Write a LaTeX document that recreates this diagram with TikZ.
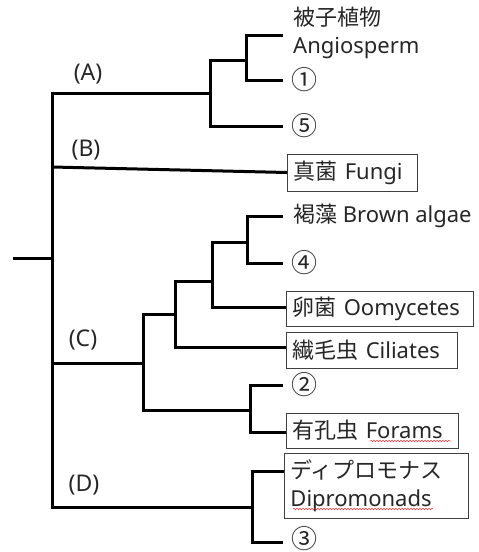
\documentclass[tikz,border=0pt]{standalone}
\usepackage{fontspec}
\setmainfont{Noto Sans}
\newfontfamily\jp{Noto Sans CJK JP}
\usetikzlibrary{decorations.pathmorphing}
\definecolor{txt}{HTML}{262626}
\newcommand{\cnum}[1]{{\jp\fontsize{26}{26}\selectfont #1}}
\begin{document}
\begin{tikzpicture}[x=1pt,y=-1pt,
  br/.style={line width=3pt, line join=miter, line cap=butt, black},
  lbl/.style={anchor=west, inner xsep=10pt, inner ysep=0pt, text=txt,
    font=\fontsize{22}{28}\selectfont, align=left},
  cnode/.style={anchor=west, inner xsep=8pt, inner ysep=0pt, text=txt},
  cl/.style={text=txt, inner sep=0pt, font=\fontsize{23}{28}\selectfont},
  boxed/.style={anchor=west, draw=black!75, line width=0.9pt, text=txt,
    inner xsep=6pt, inner ysep=0pt, align=left,
    font=\fontsize{22}{28}\selectfont},
  squig/.style={red!80, line width=0.5pt, decorate,
    decoration={snake, amplitude=0.8pt, segment length=3pt}}]
\useasboundingbox (0,0) rectangle (479,552);

% ---- text nodes ----
\node[lbl] (angio) at (283,33) {{\jp 被子植物}\\Angiosperm};
\node[cnode] (one) at (283,80) {\cnum{①}};
\node[cnode] (five) at (283,126) {\cnum{⑤}};
\node[boxed, minimum width=130pt, minimum height=37pt, text width=118pt] (fungi) at (287,172.5) {{\jp 真菌} Fungi};
\node[lbl] (brown) at (283,216) {{\jp 褐藻} Brown algae};
\node[cnode] (four) at (283,263) {\cnum{④}};
\node[boxed, minimum width=187pt, minimum height=35pt, text width=175pt] (oomy) at (286,308.5) {{\jp 卵菌} Oomycetes};
\node[boxed, minimum width=171pt, minimum height=36pt, text width=159pt] (cili) at (286,350) {{\jp 繊毛虫} Ciliates};
\node[cnode] (two) at (283,385) {\cnum{②}};
\node[boxed, minimum width=172pt, minimum height=35pt, text width=160pt] (fora) at (286,430.5) {{\jp 有孔虫} Forams};
\node[boxed, minimum width=184pt, minimum height=65pt, text width=172pt] (dipro) at (284,485.5) {{\jp ディプロモナス}\\Dipromonads};
\node[cnode] (three) at (283,539) {\cnum{③}};

\node[cl] (labA) at (88,74) {(A)};
\node[cl] (labB) at (86,150) {(B)};
\node[cl] (labC) at (83,340) {(C)};
\node[cl] (labD) at (84,485) {(D)};

% ---- tree coordinates ----
\coordinate (r0) at (13,258);
\coordinate (r) at (52,258);
\coordinate (ra) at (52,93);
\coordinate (rb) at (52,167);
\coordinate (rc) at (52,363);
\coordinate (rd) at (52,507);
\coordinate (a) at (210,93);
\coordinate (aT) at (210,60);
\coordinate (aB) at (210,126);
\coordinate (a1) at (246,60);
\coordinate (a1T) at (246,35);
\coordinate (a1B) at (246,80);
\coordinate (c3) at (143,363);
\coordinate (c3T) at (143,314);
\coordinate (c3B) at (143,410);
\coordinate (c2) at (175,314);
\coordinate (c2T) at (175,281);
\coordinate (c2B) at (175,347);
\coordinate (c1) at (212,281);
\coordinate (c1T) at (212,242);
\coordinate (c1B) at (212,307);
\coordinate (c0) at (247,242);
\coordinate (c0T) at (247,216);
\coordinate (c0B) at (247,263);
\coordinate (c4) at (250,410);
\coordinate (c4T) at (250,385);
\coordinate (c4B) at (250,432);
\coordinate (d) at (252,507);
\coordinate (dT) at (252,471);
\coordinate (dB) at (252,542);

% ---- branches ----
\draw[br] (r0) -- (r);
\draw[br] (a) -- (ra) -- (rd) -- (d);
\draw[br] (a1) -- (aT) -- (aB) -- (aB -| five.west);
\draw[br] (a1T -| angio.west) -- (a1T) -- (a1B) -- (a1B -| one.west);
\draw[br] (rb) -- (fungi.west);
\draw[br] (rc) -- (c3);
\draw[br] (c2) -- (c3T) -- (c3B) -- (c4);
\draw[br] (c1) -- (c2T) -- (c2B) -- (c2B -| cili.west);
\draw[br] (c0) -- (c1T) -- (c1B) -- (c1B -| oomy.west);
\draw[br] (c0T -| brown.west) -- (c0T) -- (c0B) -- (c0B -| four.west);
\draw[br] (c4T -| two.west) -- (c4T) -- (c4B) -- (c4B -| fora.west);
\draw[br] (dT -| dipro.west) -- (dT) -- (dB) -- (dB -| three.west);

% ---- spell-check underlines ----
\draw[squig] (370,441) -- (451,441);
\draw[squig] (293,509) -- (433,509);
\end{tikzpicture}
\end{document}
